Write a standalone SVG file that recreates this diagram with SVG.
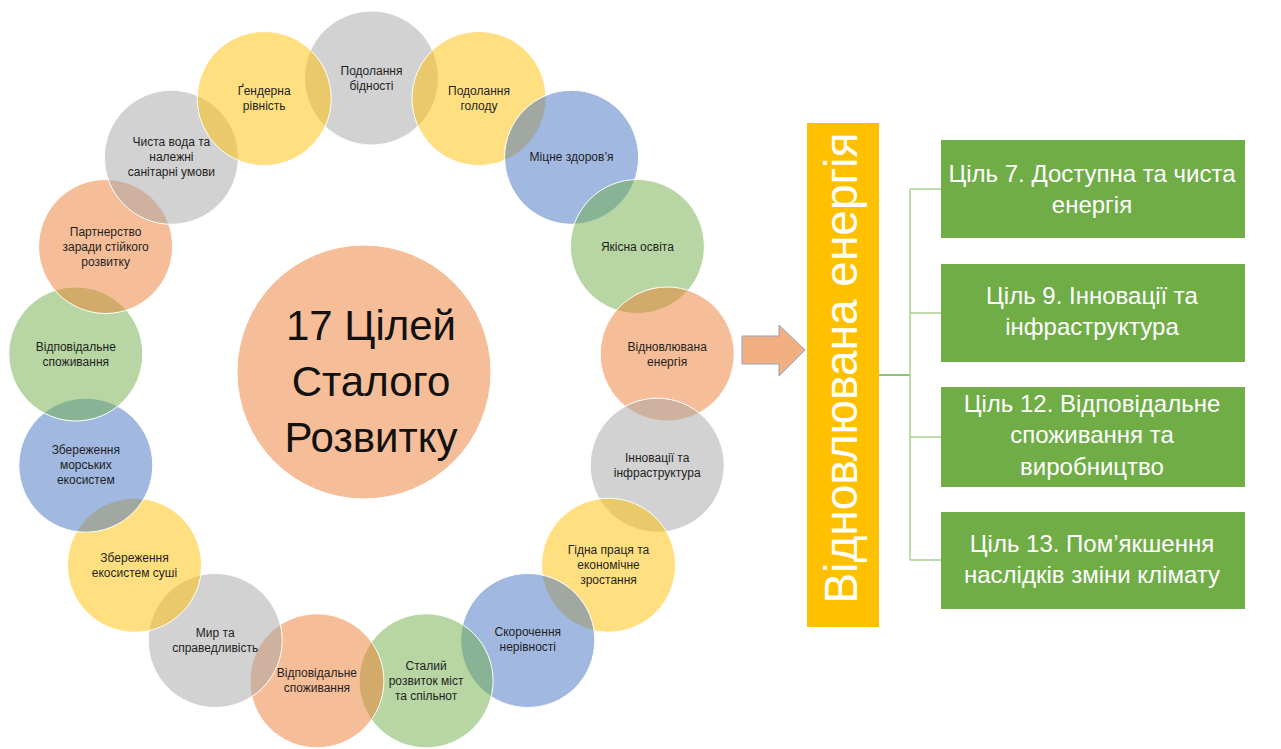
<svg xmlns="http://www.w3.org/2000/svg" width="1281" height="749" viewBox="0 0 1281 749">
<style>
.c{stroke:#ffffff;stroke-width:1;fill-opacity:0.5}
.gy{fill:#A5A5A5}.yl{fill:#FFC000}.bl{fill:#4472C4}.gr{fill:#70AD47}.or{fill:#ED7D31}
.t{font-family:"Liberation Sans",Arial,sans-serif;font-size:12px;fill:#1f1f1f;text-anchor:middle}
.big{font-family:"Liberation Sans",Arial,sans-serif;font-size:42px;fill:#111111;text-anchor:middle}
.bx{fill:#70AD47}
.bt{font-family:"Liberation Sans",Arial,sans-serif;font-size:24px;fill:#ffffff;text-anchor:middle}
.ln{stroke:#A9D18E;stroke-width:1.5;fill:none}
</style>
<rect width="1281" height="749" fill="#ffffff"/>
<g id="center">
<circle cx="364" cy="372" r="127" class="c or"/>
<text class="big"><tspan x="371" y="340">17 Цілей</tspan><tspan x="371" y="396">Сталого</tspan><tspan x="371" y="452">Розвитку</tspan></text>
</g>
<g id="g0"><circle cx="371.5" cy="78" r="67" class="c gy"/><text class="t"><tspan x="371.5" y="74.5">Подолання</tspan><tspan x="371.5" y="89.5">бідності</tspan></text></g>
<g id="g1"><circle cx="479" cy="98.5" r="67" class="c yl"/><text class="t"><tspan x="479" y="95">Подолання</tspan><tspan x="479" y="110">голоду</tspan></text></g>
<g id="g2"><circle cx="571.6" cy="157.3" r="67" class="c bl"/><text class="t"><tspan x="571.6" y="161.3">Міцне здоров’я</tspan></text></g>
<g id="g3"><circle cx="637.4" cy="246.5" r="67" class="c gr"/><text class="t"><tspan x="637.4" y="250.5">Якісна освіта</tspan></text></g>
<g id="g4"><circle cx="667.2" cy="354" r="67" class="c or"/><text class="t"><tspan x="667.2" y="350.5">Відновлювана</tspan><tspan x="667.2" y="365.5">енергія</tspan></text></g>
<g id="g5"><circle cx="657.2" cy="465.2" r="67" class="c gy"/><text class="t"><tspan x="657.2" y="461.7">Інновації та</tspan><tspan x="657.2" y="476.7">інфраструктура</tspan></text></g>
<g id="g6"><circle cx="608.5" cy="565.2" r="67" class="c yl"/><text class="t"><tspan x="608.5" y="554.2">Гідна праця та</tspan><tspan x="608.5" y="569.2">економічне</tspan><tspan x="608.5" y="584.2">зростання</tspan></text></g>
<g id="g7"><circle cx="527.8" cy="640.5" r="67" class="c bl"/><text class="t"><tspan x="527.8" y="636">Скорочення</tspan><tspan x="527.8" y="651">нерівності</tspan></text></g>
<g id="g8"><circle cx="426.1" cy="680.8" r="67" class="c gr"/><text class="t"><tspan x="426.1" y="669.8">Сталий</tspan><tspan x="426.1" y="684.8">розвиток міст</tspan><tspan x="426.1" y="699.8">та спільнот</tspan></text></g>
<g id="g9"><circle cx="316.9" cy="680.8" r="67" class="c or"/><text class="t"><tspan x="316.9" y="677.3">Відповідальне</tspan><tspan x="316.9" y="692.3">споживання</tspan></text></g>
<g id="g10"><circle cx="215.2" cy="640.5" r="67" class="c gy"/><text class="t"><tspan x="215.2" y="637">Мир та</tspan><tspan x="215.2" y="652">справедливість</tspan></text></g>
<g id="g11"><circle cx="134.5" cy="565.2" r="67" class="c yl"/><text class="t"><tspan x="134.5" y="561.7">Збереження</tspan><tspan x="134.5" y="576.7">екосистем суші</tspan></text></g>
<g id="g12"><circle cx="85.8" cy="465.2" r="67" class="c bl"/><text class="t"><tspan x="85.8" y="454.2">Збереження</tspan><tspan x="85.8" y="469.2">морських</tspan><tspan x="85.8" y="484.2">екосистем</tspan></text></g>
<g id="g13"><circle cx="75.8" cy="354" r="67" class="c gr"/><text class="t"><tspan x="75.8" y="350.5">Відповідальне</tspan><tspan x="75.8" y="365.5">споживання</tspan></text></g>
<g id="g14"><circle cx="105.6" cy="246.5" r="67" class="c or"/><text class="t"><tspan x="105.6" y="235.5">Партнерство</tspan><tspan x="105.6" y="250.5">заради стійкого</tspan><tspan x="105.6" y="265.5">розвитку</tspan></text></g>
<g id="g15"><circle cx="171.4" cy="157.3" r="67" class="c gy"/><text class="t"><tspan x="171.4" y="146.3">Чиста вода та</tspan><tspan x="171.4" y="161.3">належні</tspan><tspan x="171.4" y="176.3">санітарні умови</tspan></text></g>
<g id="g16"><circle cx="264.2" cy="98.5" r="67" class="c yl"/><text class="t"><tspan x="264.2" y="95">Ґендерна</tspan><tspan x="264.2" y="110">рівність</tspan></text></g>
<g id="arrow">
<polygon points="742,336 779,336 779,325 805,350 779,376 779,364 742,364" fill="#F2AF82" stroke="#93A3C2" stroke-width="1"/>
</g>
<g id="connectors">
<line x1="879" y1="375" x2="910" y2="375" stroke="#70AD47" stroke-width="1.5"/>
<path class="ln" d="M910,189V560M910,189H941M910,313H941M910,437H941M910,560H941"/>
</g>
<g id="title">
<rect x="807" y="123" width="72" height="504" fill="#FFC000"/>
<text font-family="Liberation Sans, Arial, sans-serif" font-size="46" fill="#ffffff" text-anchor="middle" transform="translate(857,368) rotate(-90)">Відновлювана енергія</text>
</g>
<g id="b1"><rect x="941" y="140" width="304" height="98" class="bx"/><text class="bt"><tspan x="1092" y="182">Ціль 7. Доступна та чиста</tspan><tspan x="1092" y="213">енергія</tspan></text></g>
<g id="b2"><rect x="941" y="264" width="304" height="98" class="bx"/><text class="bt"><tspan x="1092" y="304">Ціль 9. Інновації та</tspan><tspan x="1092" y="335">інфраструктура</tspan></text></g>
<g id="b3"><rect x="941" y="387" width="304" height="100" class="bx"/><text class="bt"><tspan x="1092" y="412">Ціль 12. Відповідальне</tspan><tspan x="1092" y="443">споживання та</tspan><tspan x="1092" y="475">виробництво</tspan></text></g>
<g id="b4"><rect x="941" y="512" width="304" height="97" class="bx"/><text class="bt"><tspan x="1092" y="552">Ціль 13. Пом’якшення</tspan><tspan x="1092" y="583">наслідків зміни клімату</tspan></text></g>
</svg>
